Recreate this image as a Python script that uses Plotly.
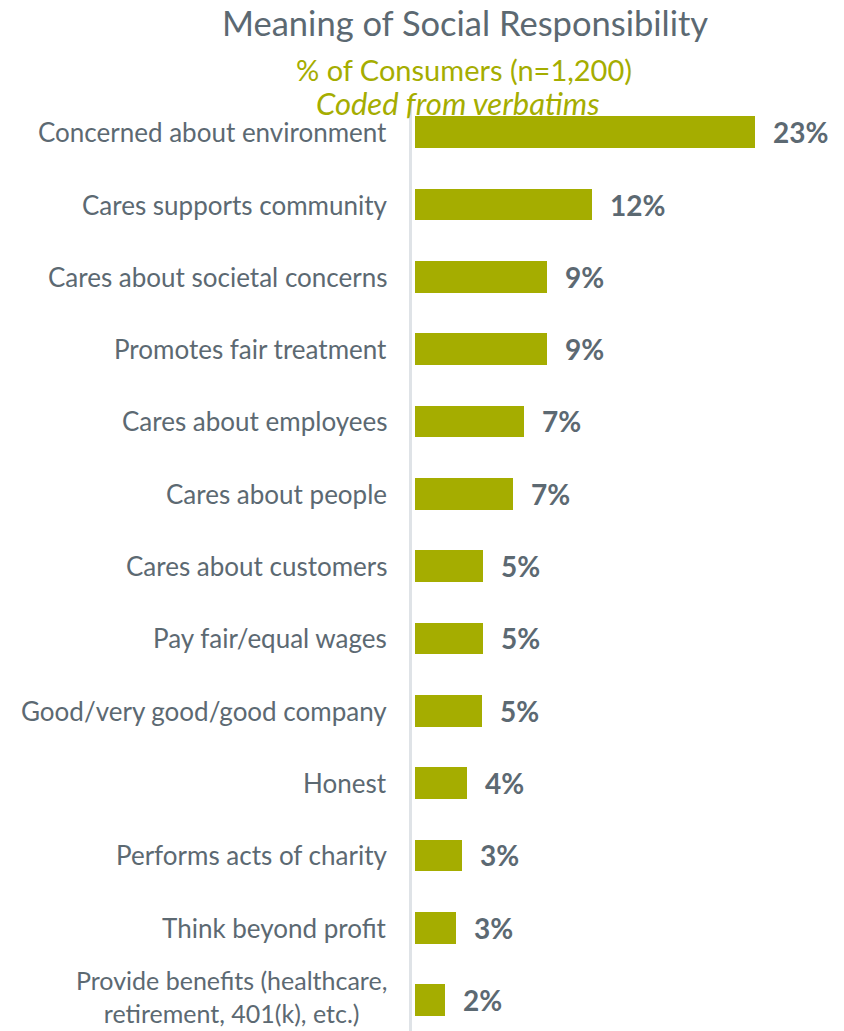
import plotly.graph_objects as go

# Coded verbatim responses, top to bottom
categories = [
    "Concerned about environment",
    "Cares supports community",
    "Cares about societal concerns",
    "Promotes fair treatment",
    "Cares about employees",
    "Cares about people",
    "Cares about customers",
    "Pay fair/equal wages",
    "Good/very good/good company",
    "Honest",
    "Performs acts of charity",
    "Think beyond profit",
    "Provide benefits (healthcare,<br>retirement, 401(k), etc.)",
]
# Share of consumers (%), n=1,200
values = [23.0, 12.0, 8.9, 8.9, 7.4, 6.6, 4.6, 4.6, 4.5, 3.5, 3.2, 2.8, 2.0]

title_text = "Meaning of Social Responsibility"
subtitle_text = "% of Consumers (n=1,200)"
note_text = "Coded from verbatims"

OLIVE = "#A5AD00"
GRAY = "#5C6972"
AXIS_GRAY = "#DFE3E7"
FONT = "Lato"

W, H = 844, 1031
LEFT, TOP = 412, 96
PLOT_W, PLOT_H = W - LEFT, H - TOP


def pct(v):
    """Whole-percent label, rounding halves up."""
    return f"{int(v + 0.5)}%"


def px_to_paper(xp, yp):
    """Convert a page pixel position into paper coordinates of the plot area."""
    return (xp - LEFT) / PLOT_W, (H - yp) / PLOT_H


fig = go.Figure(
    go.Bar(
        x=values,
        y=categories,
        orientation="h",
        width=0.44,
        marker=dict(color=OLIVE, line=dict(width=0)),
        hoverinfo="skip",
    )
)

# value labels to the right of each bar
for cat, v in zip(categories, values):
    fig.add_annotation(
        x=v, y=cat, xref="x", yref="y",
        text=f"<b>{pct(v)}</b>",
        showarrow=False, xanchor="left", yanchor="middle", xshift=16,
        font=dict(family=FONT, size=28, color=GRAY),
    )

# category labels, right-aligned against the axis line
for i, cat in enumerate(categories):
    two_line = "<br>" in cat
    fig.add_annotation(
        x=0, y=cat, xref="paper", yref="y",
        text=cat, align="center",
        showarrow=False, xanchor="right", yanchor="middle",
        xshift=-23, yshift=4 if two_line else 0,
        font=dict(family=FONT, size=26 if not two_line else 25, color=GRAY),
    )

# heading lines
for text, (xp, yp), size, color in [
    (title_text, (464.5, 22), 34.5, GRAY),
    (subtitle_text, (464, 70), 29, OLIVE),
    (f"<i>{note_text}</i>", (458, 103), 31, OLIVE),
]:
    xr, yr = px_to_paper(xp, yp)
    fig.add_annotation(
        x=xr, y=yr, xref="paper", yref="paper",
        xanchor="center", yanchor="middle",
        text=text, showarrow=False,
        font=dict(family=FONT, size=size, color=color),
    )

px_per_unit = 340 / 23.0
x_lo = -3 / px_per_unit
x_hi = PLOT_W / px_per_unit + x_lo
row_px = 72.33

fig.update_layout(
    width=W, height=H,
    margin=dict(l=LEFT, r=0, t=TOP, b=0, pad=0),
    paper_bgcolor="white", plot_bgcolor="white",
    showlegend=False,
    bargap=0,
    xaxis=dict(range=[x_lo, x_hi], visible=False, fixedrange=True),
    yaxis=dict(
        categoryorder="array", categoryarray=categories,
        range=[-0.5 + PLOT_H / row_px, -0.5],
        showticklabels=False, ticks="", showgrid=False, zeroline=False,
        showline=True, linecolor=AXIS_GRAY, linewidth=3,
        fixedrange=True,
    ),
)

fig.write_html("out.html")
